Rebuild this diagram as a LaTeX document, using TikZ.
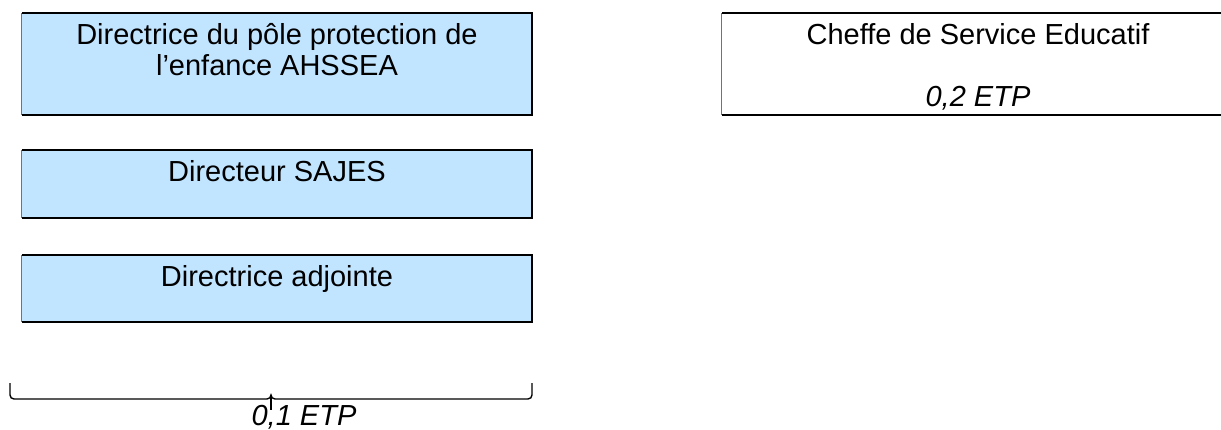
\documentclass[tikz,border=0pt]{standalone}
\usepackage{fontspec}
\setmainfont{Liberation Sans}
\definecolor{paleblue}{HTML}{C2E5FF}
\tikzset{
  box/.style={rectangle, fill=paleblue, draw=none, minimum width=510pt, inner sep=0pt},
  boxtxt/.style={font=\fontsize{29}{31}\selectfont, align=center, inner sep=0pt},
  etptxt/.style={boxtxt, font=\fontsize{29}{31}\selectfont\itshape},
  rim/.style={line width=2pt, black},
  thinrim/.style={line width=0.8pt, black!55},
  braceline/.style={line width=1.4pt, black}
}
\begin{document}
\begin{tikzpicture}[x=1pt,y=-1pt]
    \clip (0,0) rectangle (1221,430);
    % left column
    \node[box, minimum height=102pt] (pole) at (277,64) {};
    \node[box, minimum height=68pt] (sajes) at (277,184) {};
    \node[box, minimum height=67pt] (adj) at (277,288.5) {};
    \foreach \b in {pole,sajes,adj} {
        \draw[rim] (\b.north west) -- (\b.north east) -- (\b.south east) -- (\b.south west);
        \draw[thinrim] (\b.south west) -- (\b.north west);
    }
    \node[boxtxt, anchor=north] (poletxt) at ([yshift=-10pt]pole.north) {Directrice du pôle protection de\\l’enfance AHSSEA};
    \node[boxtxt, anchor=base] (sajestxt) at ([yshift=-32pt]sajes.north) {Directeur SAJES};
    \node[boxtxt, anchor=base] (adjtxt) at ([yshift=-32pt]adj.north) {Directrice adjointe};

    % right box
    \node[rectangle, fill=white, minimum width=578pt, minimum height=102pt, inner sep=0pt] (cse) at (1011,64) {};
    \draw[rim] (cse.north west) -- (cse.north east);
    \draw[rim] (cse.south west) -- (cse.south east);
    \draw[thinrim] (cse.south west) -- (cse.north west);
    \node[boxtxt, anchor=base] (csetxt) at (978,45) {Cheffe de Service Educatif};
    \node[etptxt, anchor=base] (cseetp) at (978,107) {0,2 ETP};

    % brace
    \coordinate (bl) at (10,383);
    \coordinate (br) at (532,383);
    \coordinate (tip) at (271,395);
    \draw[braceline] (bl) -- (10,395) to[out=-90,in=180] (14,399) -- (267,399)
        to[out=0,in=-90] (tip) to[out=-90,in=180] (275,399) -- (528,399)
        to[out=0,in=-90] (532,395) -- (br);
    \draw[braceline] (tip) -- (271,410);
    \node[etptxt, anchor=base] (etp) at (304,425) {0,1 ETP};
\end{tikzpicture}
\end{document}
